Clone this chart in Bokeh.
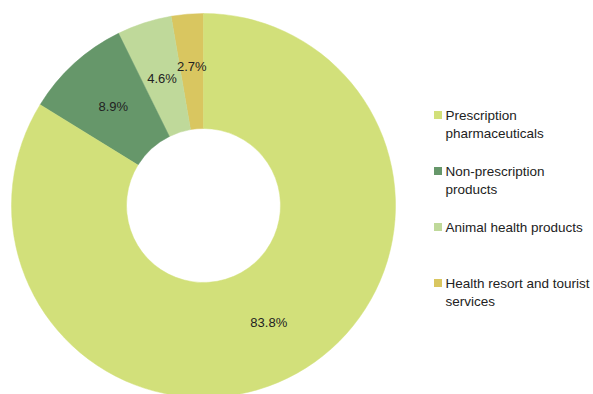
import numpy as np
from bokeh.plotting import figure
from bokeh.models import ColumnDataSource, Range1d
from bokeh.core.properties import value
from bokeh.embed import file_html
from bokeh.resources import INLINE

categories = ["Prescription\npharmaceuticals", "Non-prescription\nproducts",
              "Animal health products", "Health resort and tourist\nservices"]
shares = [83.8, 8.9, 4.6, 2.7]
labels = ["83.8%", "8.9%", "4.6%", "2.7%"]
colors = ["#D2E07A", "#66976A", "#BFD99A", "#D9C660"]

W, H = 593, 394
cx, cy = 203, H - 205
r_out, r_in = 192, 77

p = figure(width=W, height=H, x_range=Range1d(0, W), y_range=Range1d(0, H),
           output_backend="svg", toolbar_location=None, min_border=0)
p.axis.visible = False
p.grid.visible = False
p.outline_line_color = None

# Wedges counterclockwise from top: last category first
vals = np.array(shares[::-1]) / 100.0
cum = np.concatenate([[0], np.cumsum(vals)])
start = np.pi / 2 + cum[:-1] * 2 * np.pi
end = np.pi / 2 + cum[1:] * 2 * np.pi
end[-1] = np.pi / 2 + 2 * np.pi
mid = (start + end) / 2
rm = np.array([139, 134, 134, 134])
src = ColumnDataSource(dict(start=start, end=end, color=colors[::-1],
                            lx=cx + rm * np.cos(mid), ly=cy + rm * np.sin(mid),
                            lab=labels[::-1]))
p.annular_wedge(x=cx, y=cy, inner_radius=r_in, outer_radius=r_out,
                start_angle="start", end_angle="end", fill_color="color",
                line_color="color", line_width=0.5, source=src)
p.text(x="lx", y="ly", text="lab", source=src, text_align="center",
       text_baseline="middle", text_font=value("Liberation Sans"),
       text_font_size="13px", text_color="#222222")

# Legend
ly_top = [107, 163, 219, 275]
lsrc = ColumnDataSource(dict(x=[437.5] * 4, y=[H - t - 7.5 for t in ly_top],
                             tx=[445] * 4, ty=[H - t for t in ly_top],
                             color=colors, cat=categories))
p.rect(x="x", y="y", width=8, height=8, fill_color="color", line_color=None, source=lsrc)
p.text(x="tx", y="ty", text="cat", source=lsrc, text_align="left",
       text_baseline="top", text_font=value("Liberation Sans"),
       text_font_size="13.5px", text_color="#222222", text_line_height=1.22)

open("out.html", "w").write(file_html(p, INLINE))
